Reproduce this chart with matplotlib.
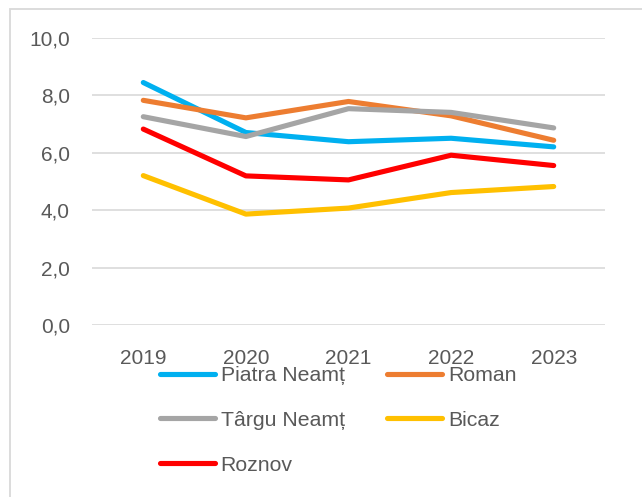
import numpy as np
import matplotlib.pyplot as plt
from matplotlib.patches import Rectangle

years = ["2019", "2020", "2021", "2022", "2023"]
piatra_neamt = [8.44, 6.70, 6.38, 6.50, 6.20]
roman = [7.82, 7.21, 7.78, 7.28, 6.43]
targu_neamt = [7.25, 6.56, 7.53, 7.40, 6.86]
bicaz = [5.20, 3.86, 4.07, 4.61, 4.82]
roznov = [6.82, 5.19, 5.05, 5.91, 5.55]

series = [
    ("Piatra Neamț", piatra_neamt, "#00B0F0"),
    ("Roman", roman, "#ED7D31"),
    ("Târgu Neamț", targu_neamt, "#A5A5A5"),
    ("Bicaz", bicaz, "#FFC000"),
    ("Roznov", roznov, "#FF0000"),
]

plt.rcParams['font.family'] = ['Liberation Sans', 'DejaVu Sans']
text_color = "#595959"

W, H = 642, 497
fig = plt.figure(figsize=(W / 100, H / 100), dpi=100)
ax = fig.add_axes([92 / W, 1 - 325 / H, (605 - 92) / W, (325 - 37.7) / H])

x = np.arange(len(years))
lines = []
for name, vals, col in series:
    ln, = ax.plot(x, vals, color=col, lw=3.7, solid_capstyle='round',
                  solid_joinstyle='round', label=name, zorder=3)
    lines.append(ln)

ax.set_xlim(-0.5, len(years) - 0.5)
ax.set_ylim(0, 10)
yt = np.arange(0, 10.1, 2)
ax.set_yticks(yt)
ax.set_yticklabels([("%.1f" % v).replace('.', ',') for v in yt])
ax.set_xticks(x)
ax.set_xticklabels(years)
ax.tick_params(axis='y', length=0, pad=16, labelsize=15, labelcolor=text_color)
ax.tick_params(axis='x', length=0, pad=17, labelsize=15, labelcolor=text_color)
ax.grid(axis='y', color="#D9D9D9", lw=1.2, zorder=0)
for s in ax.spines.values():
    s.set_visible(False)

# legend is filled column by column, so reorder to get row-wise order
order = [0, 2, 4, 1, 3]
leg = fig.legend([lines[i] for i in order], [series[i][0] for i in order],
                 loc='upper left', bbox_to_anchor=(160 / W, 1 - 366 / H),
                 ncol=2, frameon=False, fontsize=15.3, handlelength=2.6,
                 handletextpad=0.25, columnspacing=2.0, labelspacing=1.22,
                 borderpad=0, borderaxespad=0)
for t in leg.get_texts():
    t.set_color(text_color)

# outer chart border (runs off the right and bottom edges)
fig.add_artist(Rectangle((10 / W, -0.1), 1.0, 1 - 9 / H + 0.1,
                         transform=fig.transFigure, fill=False,
                         edgecolor="#D9D9D9", lw=1.3, clip_on=False))

fig.savefig("out.png", dpi=100)
